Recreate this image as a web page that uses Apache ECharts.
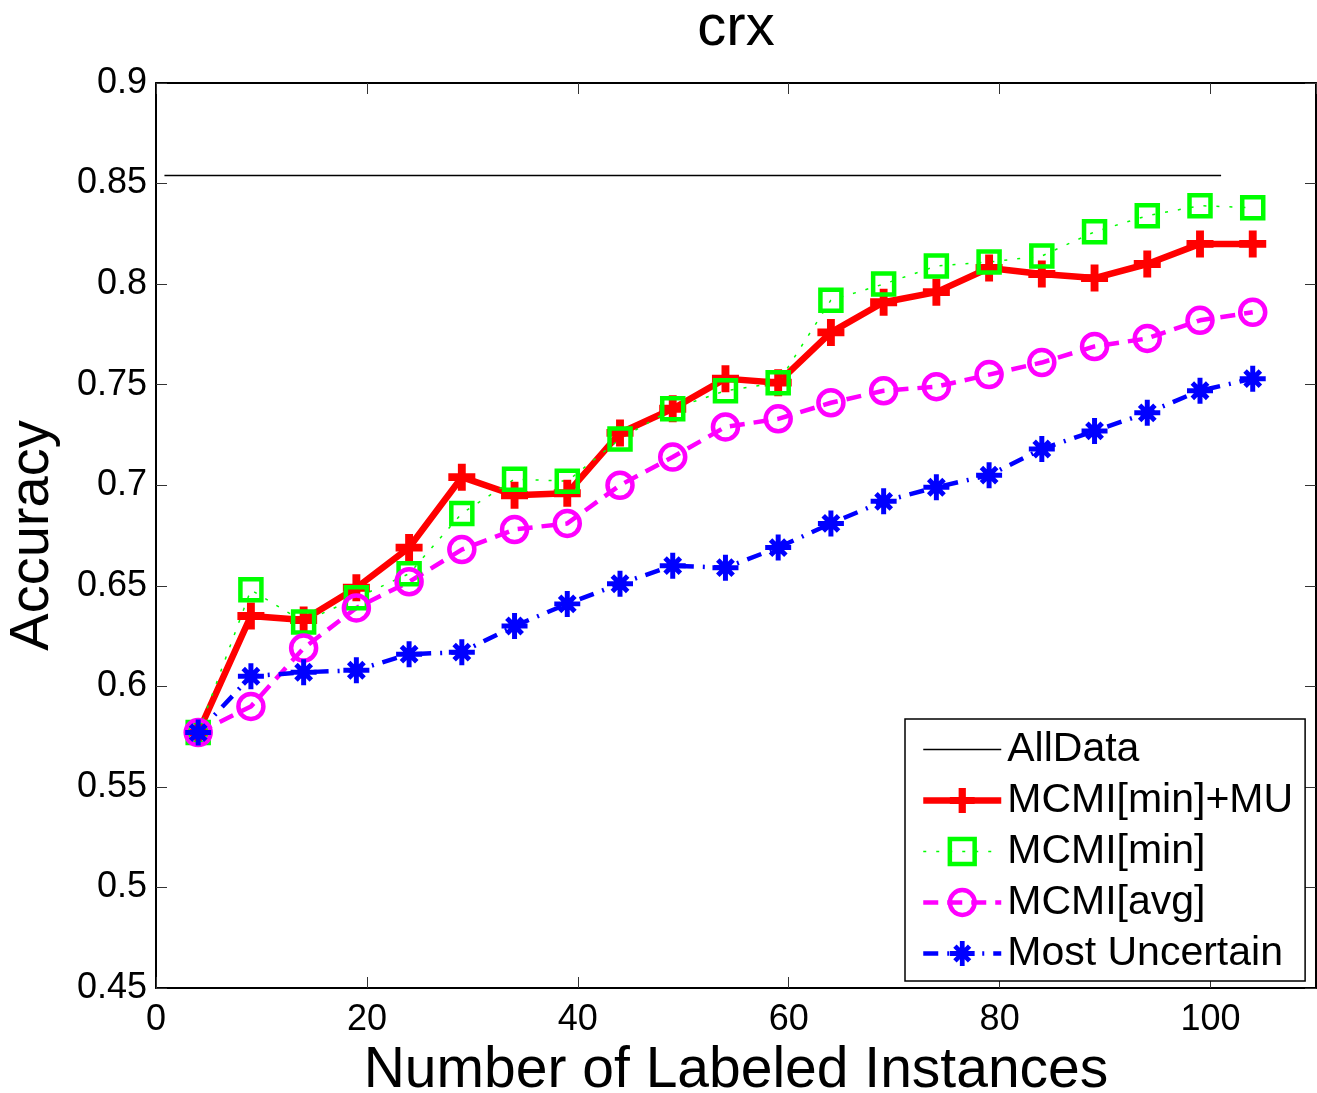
<!DOCTYPE html>
<html>
<head>
<meta charset="utf-8">
<title>crx</title>
<script src="https://cdn.jsdelivr.net/npm/echarts@6/dist/echarts.min.js"></script>
<style>
  html, body { margin: 0; padding: 0; background: #fff; }
  #chart { width: 1317px; height: 1093px; }
</style>
</head>
<body>
<div id="chart"></div>
<script>
// Number of labeled instances at each evaluation step
const labeledCounts = [4, 9, 14, 19, 24, 29, 34, 39, 44, 49, 54, 59, 64, 69, 74, 79, 84, 89, 94, 99, 104];

// Accuracy per strategy
const mcmiMinMu = [0.577, 0.635, 0.633, 0.649, 0.669, 0.704, 0.695, 0.696, 0.726, 0.738, 0.753,
                   0.751, 0.776, 0.791, 0.796, 0.808, 0.805, 0.803, 0.810, 0.820, 0.820];
const mcmiMin   = [0.577, 0.648, 0.632, 0.644, 0.656, 0.686, 0.703, 0.702, 0.723, 0.738, 0.747,
                   0.751, 0.792, 0.800, 0.809, 0.811, 0.814, 0.826, 0.834, 0.839, 0.838];
const mcmiAvg   = [0.577, 0.590, 0.619, 0.639, 0.652, 0.668, 0.678, 0.681, 0.700, 0.714, 0.729,
                   0.733, 0.741, 0.747, 0.749, 0.755, 0.761, 0.769, 0.773, 0.782, 0.786];
const mostUncertain = [0.577, 0.605, 0.607, 0.608, 0.616, 0.617, 0.630, 0.641, 0.651, 0.660, 0.659,
                       0.669, 0.681, 0.692, 0.699, 0.705, 0.718, 0.727, 0.736, 0.747, 0.753];

// Accuracy with all training data (reference level) and its extent
const allDataAccuracy = 0.854;
const allDataSpan = [0.8, 101];

// Axis ranges / ticks
const xRange = [0, 110];
const xTickStep = 20;
const yRange = [0.45, 0.9];
const yTickStep = 0.05;

const seriesNames = ['AllData', 'MCMI[min]+MU', 'MCMI[min]', 'MCMI[avg]', 'Most Uncertain'];

const FONT = '"Liberation Sans", Arial, Helvetica, sans-serif';

// Marker shapes: plus sign and eight-spoke asterisk
const PLUS = 'path://M8.5,0 H15.5 V8.5 H24 V15.5 H15.5 V24 H8.5 V15.5 H0 V8.5 H8.5 Z';
const ASTERISK = 'path://M0,9.7 H24 V14.3 H0 Z ' +
  'M9.7,0 H14.3 V24 H9.7 Z ' +
  'M17.46,20.70 L3.30,6.54 L6.54,3.30 L20.70,17.46 Z ' +
  'M20.70,6.54 L6.54,20.70 L3.30,17.46 L17.46,3.30 Z';

const pair = (xs, ys) => xs.map((x, i) => [x, ys[i]]);

const chart = echarts.init(document.getElementById('chart'), null, { renderer: 'canvas' });

const boxAxisLine = { show: true, onZero: false, lineStyle: { color: '#000', width: 2 } };
const tickStyle = { show: true, inside: true, length: 11, lineStyle: { color: '#333', width: 1 } };

chart.setOption({
  animation: false,
  backgroundColor: '#fff',
  title: {
    text: 'crx',
    left: 736,
    top: 0,
    padding: 0,
    textAlign: 'center',
    textStyle: { fontFamily: FONT, fontSize: 58, fontWeight: 'normal', color: '#000' }
  },
  grid: {
    left: 156, top: 83, width: 1160, height: 905,
    containLabel: false,
    outerBoundsMode: 'none'
  },
  xAxis: [
    {
      type: 'value', min: xRange[0], max: xRange[1], interval: xTickStep,
      position: 'bottom',
      name: 'Number of Labeled Instances',
      nameLocation: 'middle', nameGap: 38,
      nameTextStyle: { fontFamily: FONT, fontSize: 57, color: '#000' },
      axisLine: boxAxisLine, axisTick: tickStyle,
      axisLabel: { fontFamily: FONT, fontSize: 36, color: '#000', margin: 14, showMaxLabel: false },
      splitLine: { show: false }
    },
    {
      type: 'value', min: xRange[0], max: xRange[1], interval: xTickStep,
      position: 'top',
      axisLine: boxAxisLine, axisTick: tickStyle,
      axisLabel: { show: false }, splitLine: { show: false }
    }
  ],
  yAxis: [
    {
      type: 'value', min: yRange[0], max: yRange[1], interval: yTickStep,
      position: 'left',
      name: 'Accuracy',
      nameLocation: 'middle', nameGap: 95, nameRotate: 90,
      nameTextStyle: { fontFamily: FONT, fontSize: 56, color: '#000' },
      axisLine: boxAxisLine, axisTick: tickStyle,
      axisLabel: {
        fontFamily: FONT, fontSize: 36, color: '#000', margin: 9,
        formatter: v => String(Number(v.toFixed(2)))
      },
      splitLine: { show: false }
    },
    {
      type: 'value', min: yRange[0], max: yRange[1], interval: yTickStep,
      position: 'right',
      axisLine: boxAxisLine, axisTick: tickStyle,
      axisLabel: { show: false }, splitLine: { show: false }
    }
  ],
  legend: {
    orient: 'vertical',
    left: 905, top: 719,
    padding: [10, 12, 7, 15],
    backgroundColor: '#fff',
    borderColor: '#000', borderWidth: 1.5,
    itemWidth: 78, itemHeight: 31, itemGap: 10,
    data: seriesNames,
    lineStyle: { width: 'inherit' },
    itemStyle: { borderWidth: 'inherit' },
    textStyle: { fontFamily: FONT, fontSize: 41, color: '#000', lineHeight: 40, padding: [0, 0, 0, 1] }
  },
  series: [
    {
      name: seriesNames[0], type: 'line',
      data: allDataSpan.map(x => [x, allDataAccuracy]),
      symbol: 'circle', showSymbol: false, symbolSize: 0,
      itemStyle: { color: 'rgba(0,0,0,0)', borderWidth: 0 },
      lineStyle: { color: '#000', width: 1.3 },
      silent: true
    },
    {
      name: seriesNames[1], type: 'line',
      data: pair(labeledCounts, mcmiMinMu),
      symbol: PLUS, symbolSize: 27,
      itemStyle: { color: '#ff0000', borderWidth: 0 },
      lineStyle: { color: '#ff0000', width: 6.5 }
    },
    {
      name: seriesNames[2], type: 'line',
      data: pair(labeledCounts, mcmiMin),
      symbol: 'rect', symbolSize: 21,
      itemStyle: { color: 'rgba(0,0,0,0)', borderColor: '#00ff00', borderWidth: 4.5 },
      lineStyle: { color: '#00ff00', width: 1.5, type: [3, 10] }
    },
    {
      name: seriesNames[3], type: 'line',
      data: pair(labeledCounts, mcmiAvg),
      symbol: 'circle', symbolSize: 25,
      itemStyle: { color: 'rgba(0,0,0,0)', borderColor: '#ff00ff', borderWidth: 4.5 },
      lineStyle: { color: '#ff00ff', width: 4.5, type: [15, 9] }
    },
    {
      name: seriesNames[4], type: 'line',
      data: pair(labeledCounts, mostUncertain),
      symbol: ASTERISK, symbolSize: 26,
      itemStyle: { color: '#0000ff', borderWidth: 0 },
      lineStyle: { color: '#0000ff', width: 4.5, type: [15, 9, 2, 9] }
    }
  ]
});
</script>
</body>
</html>
